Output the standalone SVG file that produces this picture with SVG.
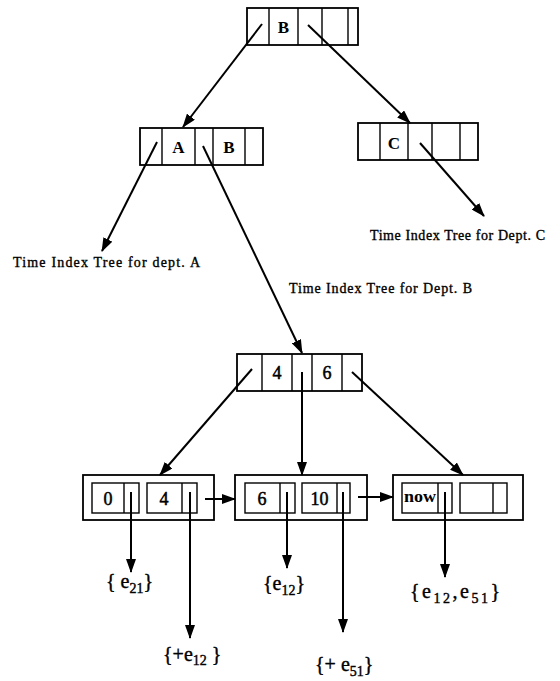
<svg xmlns="http://www.w3.org/2000/svg" width="560" height="681" viewBox="0 0 560 681">
  <style>
    .box { fill: none; stroke: #000; stroke-width: 1.8; }
    .cell { fill: none; stroke: #000; stroke-width: 1.4; }
    .edge { fill: none; stroke: #000; stroke-width: 2; }
    .key { font-family: "Liberation Serif", "Times New Roman", serif; font-size: 17px; font-weight: bold; text-anchor: middle; fill: #000; }
    .num { font-family: "Liberation Serif", "Times New Roman", serif; font-size: 18px; text-anchor: middle; fill: #000; stroke: #000; stroke-width: 0.5; }
    .lbl { font-family: "Liberation Serif", "Times New Roman", serif; font-size: 14px; fill: #000; stroke: #000; stroke-width: 0.35; }
    .set { font-family: "Liberation Serif", "Times New Roman", serif; font-size: 20px; fill: #000; stroke: #000; stroke-width: 0.4; }
    .sub { font-size: 14px; }
  </style>
  <defs>
    <marker id="head" markerUnits="userSpaceOnUse" markerWidth="14" markerHeight="10" refX="13" refY="5" orient="auto">
      <path d="M0,0 L14,5 L0,10 z" fill="#000"/>
    </marker>
  </defs>
  <rect width="560" height="681" fill="#fff"/>

  <!-- root node -->
  <g id="root">
    <rect class="box" x="247" y="8" width="111" height="37"/>
    <path class="cell" d="M269,8 V45 M298,8 V45 M322,8 V45 M348,8 V45"/>
    <text class="key" x="283.5" y="33">B</text>
  </g>

  <!-- department A/B node -->
  <g id="nodeAB">
    <rect class="box" x="140" y="128" width="123" height="37"/>
    <path class="cell" d="M162,128 V165 M195,128 V165 M213,128 V165 M245,128 V165"/>
    <text class="key" x="178.5" y="153">A</text>
    <text class="key" x="229" y="153">B</text>
  </g>

  <!-- department C node -->
  <g id="nodeC">
    <rect class="box" x="358" y="123" width="120" height="37"/>
    <path class="cell" d="M380,123 V160 M408,123 V160 M432,123 V160 M460,123 V160"/>
    <text class="key" x="394" y="149">C</text>
  </g>

  <!-- time index labels -->
  <g id="labelA"><text class="lbl" x="13" y="267" textLength="187" lengthAdjust="spacing">Time Index Tree for dept. A</text></g>
  <g id="labelC"><text class="lbl" x="370" y="240" textLength="175" lengthAdjust="spacing">Time Index Tree for Dept. C</text></g>
  <g id="labelB"><text class="lbl" x="289" y="293" textLength="183" lengthAdjust="spacing">Time Index Tree for Dept. B</text></g>

  <!-- time index node for dept. B -->
  <g id="nodeTime">
    <rect class="box" x="237" y="354" width="125" height="37"/>
    <path class="cell" d="M262,354 V391 M292,354 V391 M312,354 V391 M342,354 V391"/>
    <text class="num" x="277" y="379">4</text>
    <text class="num" x="327" y="379">6</text>
  </g>

  <!-- leaf nodes -->
  <g id="leaf1">
    <rect class="box" x="83" y="475" width="131" height="45"/>
    <rect class="cell" x="92" y="483" width="47" height="30"/>
    <path class="cell" d="M124,483 V513"/>
    <rect class="cell" x="147" y="483" width="50" height="30"/>
    <path class="cell" d="M182,483 V513"/>
    <text class="num" x="108" y="505">0</text>
    <text class="num" x="164" y="505">4</text>
  </g>
  <g id="leaf2">
    <rect class="box" x="235" y="475" width="132" height="45"/>
    <rect class="cell" x="245" y="483" width="50" height="30"/>
    <path class="cell" d="M280,483 V513"/>
    <rect class="cell" x="302" y="483" width="48" height="30"/>
    <path class="cell" d="M337,483 V513"/>
    <text class="num" x="262" y="505">6</text>
    <text class="num" x="319.5" y="505">10</text>
  </g>
  <g id="leaf3">
    <rect class="box" x="393" y="475" width="130" height="45"/>
    <rect class="cell" x="402" y="483" width="50" height="30"/>
    <path class="cell" d="M438,483 V513"/>
    <rect class="cell" x="460" y="483" width="47" height="30"/>
    <path class="cell" d="M493,483 V513"/>
    <text class="key" x="420" y="502" font-size="14" textLength="32" lengthAdjust="spacingAndGlyphs">now</text>
  </g>

  <!-- event sets -->
  <g id="set1"><text class="set" x="106" y="588">{ e<tspan class="sub" dy="5">21</tspan><tspan dy="-5">}</tspan></text></g>
  <g id="set2"><text class="set" x="263" y="590">{e<tspan class="sub" dy="5">12</tspan><tspan dy="-5">}</tspan></text></g>
  <g id="set3"><text class="set" x="163" y="661">{+e<tspan class="sub" dy="4">12</tspan><tspan dy="-4"> }</tspan></text></g>
  <g id="set4"><text class="set" x="315" y="671">{+ e<tspan class="sub" dy="5">51</tspan><tspan dy="-5">}</tspan></text></g>
  <g id="set5"><text class="set" x="410" y="598" textLength="90" lengthAdjust="spacing">{e<tspan class="sub" dy="5">12</tspan><tspan dy="-5">,e</tspan><tspan class="sub" dy="5">51</tspan><tspan dy="-5">}</tspan></text></g>

  <!-- connectors -->
  <g id="connectors">
    <line class="edge" x1="262" y1="24" x2="183" y2="127" marker-end="url(#head)"/>
    <line class="edge" x1="308" y1="25" x2="410" y2="123" marker-end="url(#head)"/>
    <line class="edge" x1="157" y1="142" x2="102" y2="251" marker-end="url(#head)"/>
    <line class="edge" x1="420" y1="143" x2="484" y2="216" marker-end="url(#head)"/>
    <line class="edge" x1="203" y1="146" x2="302" y2="353" marker-end="url(#head)"/>
    <line class="edge" x1="252" y1="369" x2="160" y2="475" marker-end="url(#head)"/>
    <line class="edge" x1="302" y1="372" x2="302" y2="475" marker-end="url(#head)"/>
    <line class="edge" x1="352" y1="372" x2="463" y2="475" marker-end="url(#head)"/>
    <line class="edge" x1="205" y1="499" x2="235" y2="499" marker-end="url(#head)"/>
    <line class="edge" x1="358" y1="497" x2="393" y2="497" marker-end="url(#head)"/>
    <line class="edge" x1="131" y1="492" x2="131" y2="572" marker-end="url(#head)"/>
    <line class="edge" x1="190" y1="492" x2="190" y2="638" marker-end="url(#head)"/>
    <line class="edge" x1="287" y1="492" x2="287" y2="568" marker-end="url(#head)"/>
    <line class="edge" x1="343" y1="492" x2="343" y2="632" marker-end="url(#head)"/>
    <line class="edge" x1="445" y1="492" x2="445" y2="577" marker-end="url(#head)"/>
  </g>
</svg>
